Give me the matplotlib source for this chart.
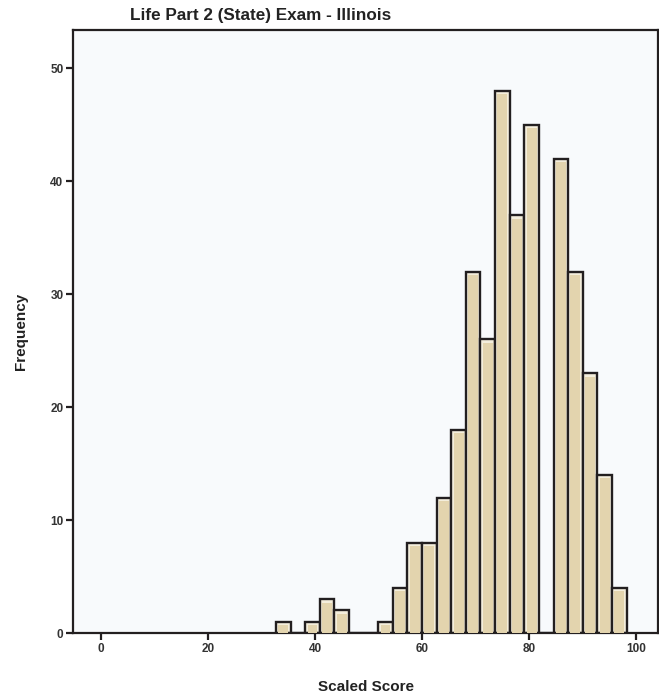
import numpy as np
import matplotlib.pyplot as plt

# histogram of scaled scores
bin_start = 32.7
bin_width = 2.73
counts = [1, 0, 1, 3, 2, 0, 0, 1, 4, 8, 8, 12, 18, 32, 26, 48, 37, 45, 0, 42, 32, 23, 14, 4]
x_ticks = [0, 20, 40, 60, 80, 100]
y_ticks = [0, 10, 20, 30, 40, 50]

edges = bin_start + bin_width * np.arange(len(counts))

plt.rcParams['font.family'] = ['Liberation Sans', 'DejaVu Sans']

fig = plt.figure(figsize=(6.59, 6.98), dpi=100)
ax = fig.add_axes([0.111, 0.093, 0.8875, 0.864])
ax.set_facecolor('#f8fafc')

# outer bar (light rim) and inner fill
ax.bar(edges, counts, width=bin_width, align='edge', color='#f4eedc',
       edgecolor='#231f20', linewidth=1.7, zorder=2)
ax.bar(edges + bin_width * 0.16, np.array(counts) - 0.3, width=bin_width * 0.68,
       align='edge', color='#e3d4ae', linewidth=0, zorder=3)

ax.set_xlim(-5.2, 104.1)
ax.set_ylim(0, 53.4)
ax.set_xticks(x_ticks)
ax.set_yticks(y_ticks)
ax.tick_params(direction='out', length=5, width=1.6, color='#231f20',
               labelsize=8.5, labelcolor='#333333', pad=2)
for lab in ax.get_xticklabels() + ax.get_yticklabels():
    lab.set_fontweight('bold')
for s in ax.spines.values():
    s.set_color('#231f20')
    s.set_linewidth(1.6)

ax.set_xlabel('Scaled Score', fontsize=11, fontweight='bold', color='#222222', labelpad=18)
ax.set_ylabel('Frequency', fontsize=11, fontweight='bold', color='#222222', labelpad=16)
fig.text(0.197, 0.978, 'Life Part 2 (State) Exam - Illinois', fontsize=12.3,
         fontweight='bold', color='#222222', ha='left', va='center')

fig.savefig('out.png', dpi=100)
